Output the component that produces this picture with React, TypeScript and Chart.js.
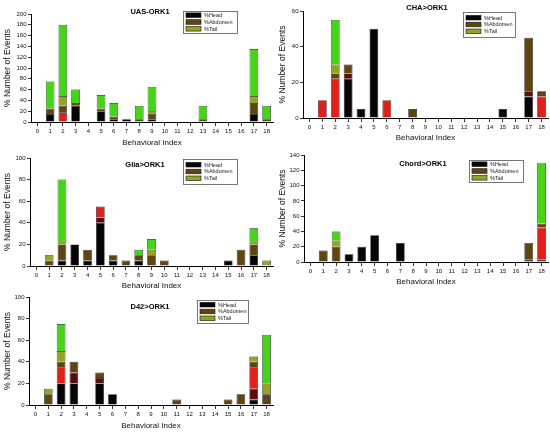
import { useEffect, useRef } from "react";
import { Chart, registerables } from "chart.js";

Chart.register(...registerables);

const FONT = "'Liberation Sans', Arial, Helvetica, sans-serif";

// x categories shared by every panel
const behaviorIndex = ["0", "1", "2", "3", "4", "5", "6", "7", "8", "9", "10", "11", "12", "13", "14", "15", "16", "17", "18"];

// UAS-ORK1
const uasHead = [0, 15, 0, 30, 0, 20, 5, 5, 0, 5, 0, 0, 0, 0, 0, 0, 0, 15, 0];
const uasMaroon = [0, 0, 0, 0, 0, 0, 0, 0, 0, 0, 0, 0, 0, 0, 0, 0, 0, 0, 0];
const uasRed = [0, 0, 18, 0, 0, 0, 0, 0, 0, 0, 0, 0, 0, 0, 0, 0, 0, 0, 0];
const uasAbdomen = [0, 10, 12, 5, 0, 5, 5, 0, 5, 10, 0, 0, 0, 5, 0, 0, 0, 20, 5];
const uasTail = [0, 0, 18, 0, 0, 0, 0, 0, 0, 5, 0, 0, 0, 0, 0, 0, 0, 13, 0];
const uasGreen = [0, 50, 132, 25, 0, 25, 25, 0, 25, 45, 0, 0, 0, 25, 0, 0, 0, 87, 25];

// CHA>ORK1
const chaHead = [0, 0, 0, 22, 5, 50, 0, 0, 0, 0, 0, 0, 0, 0, 0, 5, 0, 12, 0];
const chaMaroon = [0, 0, 0, 3, 0, 0, 0, 0, 0, 0, 0, 0, 0, 0, 0, 0, 0, 3, 0];
const chaRed = [0, 10, 22, 0, 0, 0, 10, 0, 0, 0, 0, 0, 0, 0, 0, 0, 0, 0, 12];
const chaAbdomen = [0, 0, 3, 5, 0, 0, 0, 0, 5, 0, 0, 0, 0, 0, 0, 0, 0, 30, 3];
const chaTail = [0, 0, 5, 0, 0, 0, 0, 0, 0, 0, 0, 0, 0, 0, 0, 0, 0, 0, 0];
const chaGreen = [0, 0, 25, 0, 0, 0, 0, 0, 0, 0, 0, 0, 0, 0, 0, 0, 0, 0, 0];

// Glia>ORK1
const gliaHead = [0, 0, 5, 20, 5, 40, 5, 0, 5, 0, 0, 0, 0, 0, 0, 5, 0, 10, 0];
const gliaMaroon = [0, 0, 0, 0, 0, 5, 0, 0, 0, 0, 0, 0, 0, 0, 0, 0, 0, 0, 0];
const gliaRed = [0, 0, 0, 0, 0, 10, 0, 0, 0, 0, 0, 0, 0, 0, 0, 0, 0, 0, 0];
const gliaAbdomen = [0, 5, 15, 0, 10, 0, 5, 5, 5, 10, 5, 0, 0, 0, 0, 0, 15, 10, 0];
const gliaTail = [0, 5, 3, 0, 0, 0, 0, 0, 0, 5, 0, 0, 0, 0, 0, 0, 0, 3, 5];
const gliaGreen = [0, 0, 57, 0, 0, 0, 0, 0, 5, 10, 0, 0, 0, 0, 0, 0, 0, 12, 0];

// Chord>ORK1
const chordHead = [0, 0, 0, 10, 20, 35, 0, 25, 0, 0, 0, 0, 0, 0, 0, 0, 0, 3, 3];
const chordMaroon = [0, 0, 0, 0, 0, 0, 0, 0, 0, 0, 0, 0, 0, 0, 0, 0, 0, 0, 0];
const chordRed = [0, 0, 0, 0, 0, 0, 0, 0, 0, 0, 0, 0, 0, 0, 0, 0, 0, 0, 42];
const chordAbdomen = [0, 15, 20, 0, 0, 0, 0, 0, 0, 0, 0, 0, 0, 0, 0, 0, 0, 22, 5];
const chordTail = [0, 0, 8, 0, 0, 0, 0, 0, 0, 0, 0, 0, 0, 0, 0, 0, 0, 0, 0];
const chordGreen = [0, 0, 12, 0, 0, 0, 0, 0, 0, 0, 0, 0, 0, 0, 0, 0, 0, 0, 80];

// D42>ORK1
const d42Head = [0, 0, 20, 20, 0, 20, 10, 0, 0, 0, 0, 0, 0, 0, 0, 0, 0, 5, 0];
const d42Maroon = [0, 0, 0, 10, 0, 5, 0, 0, 0, 0, 0, 0, 0, 0, 0, 0, 0, 10, 0];
const d42Red = [0, 0, 15, 0, 0, 0, 0, 0, 0, 0, 0, 0, 0, 0, 0, 0, 0, 20, 0];
const d42Abdomen = [0, 10, 5, 10, 0, 5, 0, 0, 0, 0, 0, 5, 0, 0, 0, 5, 10, 5, 10];
const d42Tail = [0, 5, 10, 0, 0, 0, 0, 0, 0, 0, 0, 0, 0, 0, 0, 0, 0, 5, 10];
const d42Green = [0, 0, 25, 0, 0, 0, 0, 0, 0, 0, 0, 0, 0, 0, 0, 0, 0, 0, 45];

// stacking order, bottom to top; only three go in the legend box
const segments = [
  { label: "%Head", color: "#050505", legend: true },
  { label: "maroon", color: "#5a0d0d", legend: false },
  { label: "red", color: "#e0201a", legend: false },
  { label: "%Abdomen", color: "#5f4512", legend: true },
  { label: "%Tail", color: "#92a522", legend: true },
  { label: "green", color: "#45d418", legend: false },
];

type PanelSpec = {
  title: string;
  series: number[][];
  yMax: number;
  left: number;
  top: number;
  height: number;
  areaTop: number;
  yAxisW: number;
  xAxisH: number;
  titleX: number;
  titleY: number;
  legendBox: [number, number, number, number];
};

const panels: PanelSpec[] = [
  {
    title: "UAS-ORK1",
    series: [uasHead, uasMaroon, uasRed, uasAbdomen, uasTail, uasGreen],
    yMax: 200, left: 0, top: 0, height: 147, areaTop: 14, yAxisW: 28, xAxisH: 25,
    titleX: 150, titleY: 12, legendBox: [183, 11, 54, 22],
  },
  {
    title: "CHA>ORK1",
    series: [chaHead, chaMaroon, chaRed, chaAbdomen, chaTail, chaGreen],
    yMax: 60, left: 275, top: 0, height: 142, areaTop: 11, yAxisW: 25, xAxisH: 24,
    titleX: 152, titleY: 8, legendBox: [188, 12, 52, 25],
  },
  {
    title: "Glia>ORK1",
    series: [gliaHead, gliaMaroon, gliaRed, gliaAbdomen, gliaTail, gliaGreen],
    yMax: 100, left: 0, top: 145, height: 145, areaTop: 13, yAxisW: 27, xAxisH: 24,
    titleX: 145, titleY: 20, legendBox: [183, 14, 54, 25],
  },
  {
    title: "Chord>ORK1",
    series: [chordHead, chordMaroon, chordRed, chordAbdomen, chordTail, chordGreen],
    yMax: 140, left: 275, top: 145, height: 141, areaTop: 10, yAxisW: 26, xAxisH: 24,
    titleX: 148, titleY: 19, legendBox: [194, 15, 54, 22],
  },
  {
    title: "D42>ORK1",
    series: [d42Head, d42Maroon, d42Red, d42Abdomen, d42Tail, d42Green],
    yMax: 100, left: 0, top: 290, height: 140, areaTop: 7, yAxisW: 26, xAxisH: 25,
    titleX: 150, titleY: 17, legendBox: [197, 10, 51, 23],
  },
];

// draws the panel title and the boxed legend inside the plot
const panelDeco = {
  id: "panelDeco",
  afterDraw(chart: any, _args: any, opts: any) {
    const ctx = chart.ctx;
    ctx.save();
    ctx.fillStyle = "#000";
    ctx.textBaseline = "middle";
    ctx.textAlign = "center";
    ctx.font = `bold 7.5px ${FONT}`;
    ctx.fillText(opts.title, opts.titleX, opts.titleY);

    const [bx, by, bw, bh] = opts.legendBox;
    ctx.strokeStyle = "#555";
    ctx.lineWidth = 0.8;
    ctx.strokeRect(bx + 0.5, by + 0.5, bw, bh);

    const items = chart.data.datasets.filter((d: any) => d.inLegend);
    const gap = 6.8;
    const first = by + bh / 2 - gap;
    ctx.textAlign = "left";
    ctx.font = `5.5px ${FONT}`;
    items.forEach((d: any, i: number) => {
      const ry = first + i * gap;
      ctx.fillStyle = d.backgroundColor;
      ctx.fillRect(bx + 3, ry - 2.3, 15, 4.6);
      ctx.strokeStyle = "#111";
      ctx.lineWidth = 0.6;
      ctx.strokeRect(bx + 3, ry - 2.3, 15, 4.6);
      ctx.fillStyle = "#222";
      ctx.fillText(d.label, bx + 21, ry + 0.3);
    });
    ctx.restore();
  },
};

const Panel = ({ spec }: { spec: PanelSpec }) => {
  const chartRef = useRef<HTMLCanvasElement | null>(null);

  useEffect(() => {
    if (!chartRef.current) return;
    const ctx = chartRef.current.getContext("2d");
    if (!ctx) return;

    const myChart = new Chart(ctx, {
      type: "bar",
      data: {
        labels: behaviorIndex,
        datasets: segments.map((seg, i) => ({
          label: seg.label,
          data: spec.series[i],
          backgroundColor: seg.color,
          borderColor: "#1a1a1a",
          borderWidth: 0.7,
          barPercentage: 0.68,
          categoryPercentage: 1,
          inLegend: seg.legend,
        })) as any,
      },
      options: {
        animation: false,
        responsive: true,
        maintainAspectRatio: false,
        layout: { padding: { left: 3, right: 2, top: spec.areaTop, bottom: 0 } },
        plugins: {
          legend: { display: false },
          tooltip: { enabled: false },
          panelDeco: {
            title: spec.title,
            titleX: spec.titleX,
            titleY: spec.titleY,
            legendBox: spec.legendBox,
          },
        } as any,
        scales: {
          x: {
            stacked: true,
            offset: true,
            grid: {
              display: true,
              offset: false,
              drawOnChartArea: false,
              drawTicks: true,
              tickLength: 4,
              color: "#000",
              lineWidth: 0.8,
            },
            border: { display: true, color: "#000", width: 1 },
            ticks: {
              autoSkip: false,
              maxRotation: 0,
              padding: 1.5,
              color: "#111",
              font: { size: 6, family: FONT },
            },
            title: {
              display: true,
              text: "Behavioral Index",
              color: "#111",
              padding: 0,
              font: { size: 8, family: FONT, lineHeight: 1 },
            },
            afterFit: (scale: any) => {
              scale.height = spec.xAxisH;
            },
          },
          y: {
            stacked: true,
            min: 0,
            max: spec.yMax,
            grid: {
              display: true,
              drawOnChartArea: false,
              drawTicks: true,
              tickLength: 3,
              color: "#000",
              lineWidth: 0.8,
            },
            border: { display: true, color: "#000", width: 1 },
            ticks: {
              stepSize: 20,
              padding: 1.5,
              color: "#111",
              font: { size: 6, family: FONT },
            },
            title: {
              display: true,
              text: "% Number of Events",
              color: "#111",
              padding: 0,
              font: { size: 8.5, family: FONT, lineHeight: 1 },
            },
            afterFit: (scale: any) => {
              scale.width = spec.yAxisW;
            },
          },
        },
      },
      plugins: [panelDeco],
    });

    return () => {
      myChart.destroy();
    };
  }, [spec]);

  return (
    <div
      style={{
        position: "absolute",
        left: spec.left,
        top: spec.top,
        width: 275,
        height: spec.height,
      }}
    >
      <canvas ref={chartRef}></canvas>
    </div>
  );
};

const App = () => {
  return (
    <div
      style={{
        position: "absolute",
        left: 0,
        top: 0,
        width: 550,
        height: 432,
        background: "#fff",
        overflow: "hidden",
      }}
    >
      {panels.map((p) => (
        <Panel key={p.title} spec={p} />
      ))}
    </div>
  );
};

export default App;
